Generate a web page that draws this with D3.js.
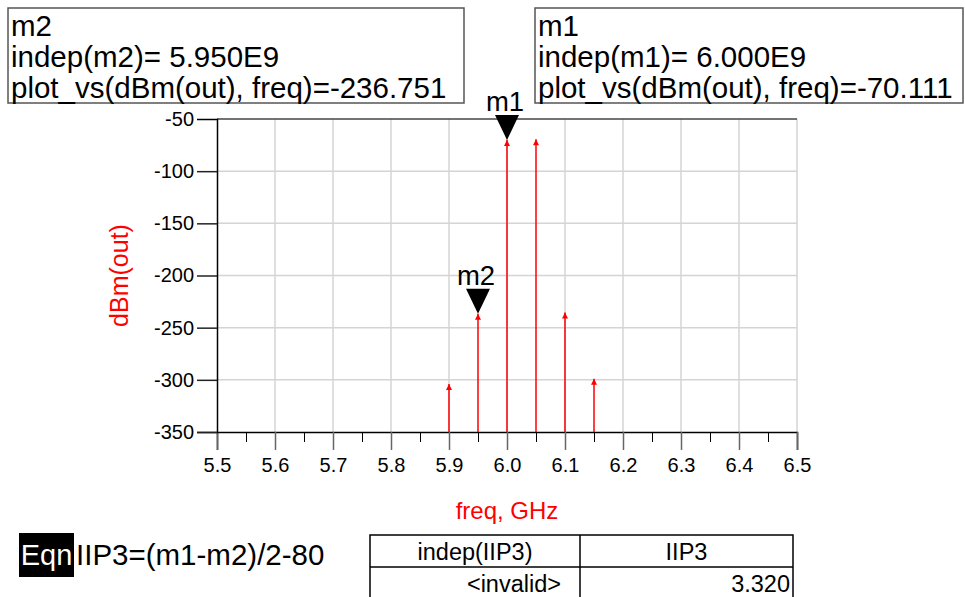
<!DOCTYPE html>
<html lang="en">
<head>
    <meta charset="UTF-8">
    <title>dBm(out) vs freq</title>
    <script src="https://cdn.jsdelivr.net/npm/d3@7"></script>
    <style>
        body { margin: 0; background: #fff; }
        text { font-family: "Liberation Sans", Arial, sans-serif; }
        .grid line { stroke: #d4d4d4; stroke-width: 1.5; }
    </style>
</head>
<body>
<script>
    // spectrum values
    const freqs = [5.9, 5.95, 6.0, 6.05, 6.1, 6.15];
    const dbmOut = [-304, -236.751, -70.111, -69.5, -235.5, -299];

    const xTicks = [5.5, 5.6, 5.7, 5.8, 5.9, 6.0, 6.1, 6.2, 6.3, 6.4, 6.5];
    const xMinor = [5.55, 5.65, 5.75, 5.85, 5.95, 6.05, 6.15, 6.25, 6.35, 6.45];
    const yTicks = [-350, -300, -250, -200, -150, -100, -50];

    const markerNames = ["m1", "m2"];
    const markerFreqs = [6.0, 5.95];
    const markerValues = [-70.111, -236.751];

    const w = 965, h = 597;
    const pLeft = 217, pRight = 797, pTop = 119, pBottom = 432;

    const svg = d3.select("body").append("svg")
        .attr("width", w).attr("height", h);

    const xScale = d3.scaleLinear().domain([5.5, 6.5]).range([pLeft, pRight]);
    const yScale = d3.scaleLinear().domain([-350, -50]).range([pBottom, pTop]);

    // grid
    svg.append("g").attr("class", "grid")
        .selectAll("line").data(xTicks.slice(1)).enter().append("line")
        .attr("x1", d => xScale(d)).attr("x2", d => xScale(d))
        .attr("y1", pTop).attr("y2", pBottom);
    svg.append("g").attr("class", "grid")
        .selectAll("line").data(yTicks.slice(1, -1)).enter().append("line")
        .attr("x1", pLeft).attr("x2", pRight)
        .attr("y1", d => yScale(d)).attr("y2", d => yScale(d));

    // top frame line
    svg.append("line")
        .attr("x1", pLeft).attr("x2", pRight).attr("y1", pTop).attr("y2", pTop)
        .attr("stroke", "#444").attr("stroke-width", 1.5);

    // x axis, major ticks
    const xAxis = svg.append("g")
        .attr("transform", `translate(0,${pBottom})`)
        .call(d3.axisBottom(xScale).tickValues(xTicks).tickSize(18)
            .tickFormat(d3.format(".1f")).tickPadding(8));
    xAxis.select(".domain").attr("stroke", "#000").attr("stroke-width", 1.5);
    xAxis.selectAll(".tick line").attr("stroke", "#666").attr("stroke-width", 1.5);
    xAxis.selectAll(".tick text").attr("font-size", 20).attr("fill", "#000")
        .attr("font-family", "Liberation Sans, Arial, sans-serif");

    // x axis, minor ticks
    svg.append("g")
        .attr("transform", `translate(0,${pBottom})`)
        .call(d3.axisBottom(xScale).tickValues(xMinor).tickSize(10).tickFormat(""))
        .call(g => g.select(".domain").remove())
        .selectAll(".tick line").attr("stroke", "#000").attr("stroke-width", 1);

    // y axis (plain hyphen for the minus sign, like the original)
    const yAxis = svg.append("g")
        .attr("transform", `translate(${pLeft},0)`)
        .call(d3.axisLeft(yScale).tickValues(yTicks).tickSize(20).tickPadding(3)
            .tickFormat(d => String(d)));
    yAxis.select(".domain").attr("stroke", "#000").attr("stroke-width", 1.5);
    yAxis.selectAll(".tick line").attr("stroke", "#222").attr("stroke-width", 1.5)
        .filter(d => d === -50).remove();
    yAxis.selectAll(".tick text").attr("font-size", 20).attr("fill", "#000")
        .attr("font-family", "Liberation Sans, Arial, sans-serif");

    // axis titles
    svg.append("text")
        .attr("x", (pLeft + pRight) / 2).attr("y", 519)
        .attr("text-anchor", "middle").attr("font-size", 24).attr("fill", "red")
        .text("freq, GHz");
    svg.append("text")
        .attr("transform", `translate(128,${(pTop + pBottom) / 2}) rotate(-90)`)
        .attr("text-anchor", "middle").attr("font-size", 25).attr("fill", "red")
        .text("dBm(out)");

    // spikes with arrow heads
    svg.append("defs").append("marker")
        .attr("id", "arrow").attr("viewBox", "0 0 10 10")
        .attr("refX", 5).attr("refY", 0)
        .attr("markerWidth", 6).attr("markerHeight", 7)
        .attr("markerUnits", "userSpaceOnUse")
        .attr("orient", "0")
        .append("path").attr("d", "M0,10L5,0L10,10Z").attr("fill", "red");

    const spikes = freqs.map((f, i) => ({ f: f, v: dbmOut[i] }));
    svg.append("g").selectAll("line").data(spikes).enter().append("line")
        .attr("x1", d => xScale(d.f)).attr("x2", d => xScale(d.f))
        .attr("y1", pBottom).attr("y2", d => yScale(d.v))
        .attr("stroke", "red").attr("stroke-width", 1.5)
        .attr("marker-end", "url(#arrow)");

    // markers on the plot
    const markers = markerNames.map((n, i) => ({ name: n, f: markerFreqs[i], v: markerValues[i] }));
    const mg = svg.append("g").selectAll("g").data(markers).enter().append("g")
        .attr("transform", d => `translate(${xScale(d.f)},${yScale(d.v)})`);
    mg.append("path").attr("d", "M-12,-25L12,-25L0,0Z").attr("fill", "#000");
    mg.append("text").attr("x", -2).attr("y", -29)
        .attr("text-anchor", "middle").attr("font-size", 27.5).attr("fill", "#000")
        .text(d => d.name);

    // marker readout boxes
    const boxX = { m2: 8, m1: 535 };
    const boxW = { m2: 456, m1: 428 };
    const fmtFreq = f => (f * 1e9).toExponential(3).toUpperCase().replace("E+", "E");
    const boxOrder = markers.slice().sort((a, b) => boxX[a.name] - boxX[b.name]);
    boxOrder.forEach(m => {
        const g = svg.append("g").attr("transform", `translate(${boxX[m.name]},8)`);
        g.append("rect").attr("width", boxW[m.name]).attr("height", 95)
            .attr("fill", "#fff").attr("stroke", "#555").attr("stroke-width", 1.5);
        const lines = [m.name,
            `indep(${m.name})= ${fmtFreq(m.f)}`,
            `plot_vs(dBm(out), freq)=${m.v.toFixed(3)}`];
        g.selectAll("text").data(lines).enter().append("text")
            .attr("x", 3).attr("y", (d, i) => 28 + i * 31)
            .attr("font-size", 29.5).attr("fill", "#000")
            .text(d => d);
    });

    // equation + result table
    const iip3 = (markerValues[0] - markerValues[1]) / 2 - 80;
    svg.append("rect").attr("x", 19).attr("y", 533).attr("width", 55).attr("height", 44).attr("fill", "#000");
    svg.append("text").attr("x", 46.5).attr("y", 565).attr("text-anchor", "middle")
        .attr("font-size", 29).attr("fill", "#fff").text("Eqn");
    svg.append("text").attr("x", 76).attr("y", 565)
        .attr("font-size", 29.5).attr("fill", "#000").text("IIP3=(m1-m2)/2-80");

    const tx = 370, tMid = 580, tRight = 793, tTop = 535, tRow = 567;
    const tbl = svg.append("g");
    tbl.append("path")
        .attr("d", `M${tx},${h + 2}V${tTop}H${tRight}V${h + 2}M${tMid},${tTop}V${h + 2}M${tx},${tRow}H${tRight}`)
        .attr("fill", "none").attr("stroke", "#000").attr("stroke-width", 1.5);
    tbl.append("text").attr("x", (tx + tMid) / 2).attr("y", 560).attr("text-anchor", "middle")
        .attr("font-size", 23.5).text("indep(IIP3)");
    tbl.append("text").attr("x", (tMid + tRight) / 2).attr("y", 560).attr("text-anchor", "middle")
        .attr("font-size", 23.5).text("IIP3");
    tbl.append("text").attr("x", tMid - 19).attr("y", 592).attr("text-anchor", "end")
        .attr("font-size", 23.5).text("<invalid>");
    tbl.append("text").attr("x", tRight - 3).attr("y", 592).attr("text-anchor", "end")
        .attr("font-size", 23.5).text(iip3.toFixed(3));
</script>
</body>
</html>
